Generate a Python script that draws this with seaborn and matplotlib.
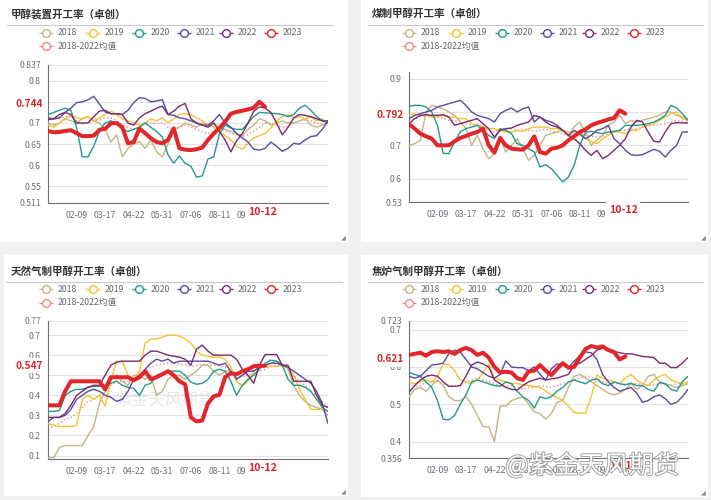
import numpy as np
import pandas as pd
import matplotlib
matplotlib.use('Agg')
import matplotlib.pyplot as plt
import seaborn as sns
from matplotlib.patches import Rectangle
import matplotlib.patheffects as pe
import matplotlib.transforms as mtrans

# ---------------- data ----------------
years = ['2018', '2019', '2020', '2021', '2022', '2023', '2018-2022均值']
colors = ['#c4b584', '#f5c236', '#229a8e', '#5a4aa0', '#7b2a6c', '#e1262c', '#f08a8a']
tick_pos = [5, 10, 15, 20, 25, 30, 35, 40]
tick_labels = ['02-09', '03-17', '04-22', '05-31', '07-06', '08-11', '09-16', '']
pointer_x_label = '10-12'

titles = ['甲醇装置开工率（卓创）', '煤制甲醇开工率（卓创）',
          '天然气制甲醇开工率（卓创）', '焦炉气制甲醇开工率（卓创）']
pointer_values = [0.744, 0.792, 0.547, 0.621]

# panel 1: 甲醇装置开工率
tl_2018 = [0.70, 0.695, 0.70, 0.71, 0.705, 0.70, 0.71, 0.715, 0.705, 0.70,
           0.685, 0.655, 0.672, 0.62, 0.64, 0.65, 0.656, 0.64, 0.66, 0.632,
           0.62, 0.65, 0.685, 0.69, 0.70, 0.695, 0.69, 0.70, 0.695, 0.70,
           0.69, 0.685, 0.68, 0.675, 0.67, 0.685, 0.695, 0.71, 0.705, 0.695,
           0.70, 0.705, 0.70, 0.70, 0.705, 0.71, 0.695, 0.69, 0.695, 0.70]
tl_2019 = [0.695, 0.69, 0.70, 0.71, 0.72, 0.712, 0.71, 0.715, 0.705, 0.712,
           0.72, 0.728, 0.72, 0.71, 0.705, 0.70, 0.695, 0.70, 0.71, 0.705,
           0.712, 0.70, 0.71, 0.72, 0.722, 0.72, 0.712, 0.705, 0.695, 0.69,
           0.68, 0.67, 0.66, 0.645, 0.638, 0.652, 0.665, 0.67, 0.675, 0.688,
           0.705, 0.715, 0.72, 0.712, 0.715, 0.71, 0.715, 0.705, 0.71, 0.70]
tl_2020 = [0.72, 0.725, 0.73, 0.735, 0.73, 0.69, 0.62, 0.62, 0.645, 0.68,
           0.70, 0.705, 0.70, 0.685, 0.68, 0.685, 0.69, 0.70, 0.69, 0.68,
           0.667, 0.625, 0.605, 0.622, 0.605, 0.598, 0.572, 0.575, 0.615, 0.62,
           0.675, 0.695, 0.688, 0.685, 0.685, 0.70, 0.715, 0.725, 0.724, 0.723,
           0.722, 0.72, 0.715, 0.72, 0.735, 0.742, 0.73, 0.715, 0.705, 0.70]
tl_2021 = [0.712, 0.71, 0.712, 0.725, 0.735, 0.748, 0.75, 0.755, 0.763, 0.745,
           0.726, 0.722, 0.722, 0.72, 0.73, 0.748, 0.76, 0.758, 0.75, 0.752,
           0.755, 0.72, 0.718, 0.712, 0.71, 0.705, 0.70, 0.695, 0.695, 0.705,
           0.72, 0.70, 0.69, 0.675, 0.665, 0.655, 0.638, 0.636, 0.64, 0.655,
           0.645, 0.633, 0.64, 0.652, 0.65, 0.66, 0.668, 0.67, 0.685, 0.705]
tl_2022 = [0.708, 0.71, 0.72, 0.725, 0.72, 0.70, 0.70, 0.70, 0.715, 0.728,
           0.73, 0.722, 0.722, 0.72, 0.70, 0.695, 0.712, 0.722, 0.728, 0.735,
           0.74, 0.72, 0.728, 0.74, 0.746, 0.71, 0.70, 0.695, 0.69, 0.70,
           0.68, 0.66, 0.632, 0.658, 0.675, 0.70, 0.728, 0.738, 0.735, 0.725,
           0.70, 0.672, 0.69, 0.712, 0.72, 0.718, 0.715, 0.71, 0.705, 0.705]
tl_2023 = [0.681, 0.678, 0.679, 0.681, 0.683, 0.676, 0.669, 0.669, 0.670, 0.684,
           0.686, 0.699, 0.700, 0.690, 0.652, 0.655, 0.687, 0.676, 0.664, 0.655,
           0.652, 0.660, 0.687, 0.640, 0.637, 0.636, 0.638, 0.642, 0.660, 0.675,
           0.688, 0.703, 0.722, 0.726, 0.729, 0.732, 0.736, 0.750, 0.738]
tl_mean = [0.712, 0.708, 0.71, 0.715, 0.715, 0.705, 0.698, 0.70, 0.705, 0.708,
           0.712, 0.712, 0.705, 0.695, 0.69, 0.685, 0.69, 0.70, 0.70, 0.698,
           0.70, 0.69, 0.685, 0.69, 0.695, 0.69, 0.685, 0.678, 0.675, 0.68,
           0.685, 0.682, 0.675, 0.672, 0.668, 0.672, 0.68, 0.69, 0.70, 0.70,
           0.695, 0.69, 0.693, 0.70, 0.705, 0.708, 0.705, 0.70, 0.698, 0.70]

# panel 2: 煤制甲醇开工率
tr_2018 = [0.70, 0.705, 0.715, 0.80, 0.82, 0.815, 0.81, 0.80, 0.79, 0.77,
           0.75, 0.70, 0.73, 0.69, 0.66, 0.675, 0.72, 0.68, 0.70, 0.72,
           0.69, 0.655, 0.67, 0.70, 0.73, 0.735, 0.74, 0.745, 0.73, 0.755,
           0.77, 0.74, 0.70, 0.715, 0.73, 0.76, 0.77, 0.79, 0.765, 0.775,
           0.77, 0.775, 0.78, 0.785, 0.79, 0.80, 0.80, 0.79, 0.785, 0.78]
tr_2019 = [0.79, 0.795, 0.79, 0.79, 0.785, 0.785, 0.79, 0.785, 0.785, 0.78,
           0.78, 0.765, 0.76, 0.755, 0.75, 0.75, 0.745, 0.74, 0.74, 0.745,
           0.742, 0.75, 0.755, 0.755, 0.755, 0.75, 0.75, 0.745, 0.74, 0.738,
           0.73, 0.72, 0.712, 0.705, 0.72, 0.73, 0.74, 0.74, 0.735, 0.745,
           0.745, 0.755, 0.76, 0.765, 0.775, 0.785, 0.795, 0.80, 0.78, 0.775]
tr_2020 = [0.817, 0.82, 0.82, 0.815, 0.80, 0.76, 0.676, 0.675, 0.71, 0.74,
           0.75, 0.755, 0.76, 0.745, 0.73, 0.72, 0.75, 0.745, 0.735, 0.705,
           0.70, 0.69, 0.68, 0.635, 0.642, 0.63, 0.61, 0.59, 0.605, 0.64,
           0.70, 0.74, 0.742, 0.738, 0.735, 0.74, 0.742, 0.745, 0.76, 0.76,
           0.76, 0.762, 0.765, 0.77, 0.778, 0.79, 0.82, 0.812, 0.795, 0.775]
tr_2021 = [0.78, 0.79, 0.795, 0.80, 0.805, 0.815, 0.82, 0.825, 0.83, 0.835,
           0.82, 0.80, 0.79, 0.785, 0.78, 0.77, 0.795, 0.805, 0.812, 0.80,
           0.81, 0.815, 0.77, 0.785, 0.775, 0.77, 0.76, 0.745, 0.73, 0.745,
           0.735, 0.72, 0.73, 0.745, 0.75, 0.76, 0.72, 0.705, 0.685, 0.672,
           0.67, 0.672, 0.68, 0.688, 0.682, 0.665, 0.685, 0.70, 0.74, 0.74]
tr_2022 = [0.765, 0.78, 0.79, 0.792, 0.79, 0.79, 0.792, 0.785, 0.76, 0.765,
           0.77, 0.775, 0.78, 0.765, 0.75, 0.725, 0.745, 0.75, 0.752, 0.76,
           0.765, 0.77, 0.79, 0.785, 0.77, 0.76, 0.755, 0.745, 0.73, 0.72,
           0.705, 0.685, 0.67, 0.685, 0.66, 0.67, 0.685, 0.70, 0.72, 0.755,
           0.775, 0.77, 0.74, 0.712, 0.71, 0.74, 0.765, 0.768, 0.767, 0.767]
tr_2023 = [0.764, 0.75, 0.735, 0.727, 0.72, 0.70, 0.70, 0.70, 0.712, 0.722,
           0.728, 0.735, 0.74, 0.75, 0.70, 0.678, 0.722, 0.70, 0.69, 0.688,
           0.687, 0.70, 0.727, 0.68, 0.675, 0.69, 0.693, 0.70, 0.715, 0.727,
           0.74, 0.748, 0.76, 0.767, 0.772, 0.778, 0.782, 0.805, 0.795]
tr_mean = [0.775, 0.78, 0.785, 0.79, 0.79, 0.785, 0.78, 0.775, 0.775, 0.77,
           0.765, 0.76, 0.765, 0.755, 0.745, 0.74, 0.75, 0.748, 0.75, 0.745,
           0.748, 0.745, 0.742, 0.745, 0.748, 0.742, 0.74, 0.735, 0.728, 0.735,
           0.738, 0.73, 0.728, 0.725, 0.727, 0.735, 0.74, 0.745, 0.745, 0.748,
           0.75, 0.755, 0.758, 0.76, 0.762, 0.765, 0.77, 0.775, 0.772, 0.77]

# panel 3: 天然气制甲醇开工率
bl_2018 = [0.09, 0.09, 0.14, 0.15, 0.15, 0.15, 0.15, 0.20, 0.245, 0.36,
           0.42, 0.48, 0.50, 0.47, 0.45, 0.50, 0.50, 0.48, 0.50, 0.40,
           0.42, 0.48, 0.50, 0.50, 0.48, 0.50, 0.52, 0.55, 0.55, 0.52,
           0.50, 0.52, 0.52, 0.48, 0.50, 0.52, 0.54, 0.55, 0.55, 0.56,
           0.57, 0.555, 0.53, 0.45, 0.40, 0.37, 0.35, 0.34, 0.33, 0.30]
bl_2019 = [0.26, 0.25, 0.245, 0.245, 0.245, 0.25, 0.38, 0.40, 0.38, 0.40,
           0.345, 0.47, 0.57, 0.57, 0.50, 0.48, 0.52, 0.66, 0.68, 0.68,
           0.69, 0.70, 0.70, 0.695, 0.68, 0.66, 0.62, 0.60, 0.595, 0.59,
           0.59, 0.58, 0.54, 0.47, 0.445, 0.47, 0.52, 0.54, 0.545, 0.545,
           0.545, 0.545, 0.54, 0.50, 0.43, 0.38, 0.33, 0.33, 0.33, 0.32]
bl_2020 = [0.32, 0.32, 0.325, 0.40, 0.42, 0.43, 0.43, 0.44, 0.445, 0.445,
           0.45, 0.46, 0.47, 0.45, 0.44, 0.435, 0.40, 0.45, 0.46, 0.50,
           0.51, 0.52, 0.52, 0.52, 0.50, 0.465, 0.455, 0.46, 0.48, 0.52,
           0.53, 0.52, 0.47, 0.40, 0.45, 0.48, 0.50, 0.53, 0.56, 0.575,
           0.57, 0.55, 0.48, 0.45, 0.45, 0.44, 0.42, 0.38, 0.34, 0.32]
bl_2021 = [0.27, 0.29, 0.29, 0.30, 0.33, 0.38, 0.40, 0.42, 0.43, 0.42,
           0.40, 0.39, 0.37, 0.38, 0.42, 0.48, 0.50, 0.53, 0.56, 0.58,
           0.57, 0.58, 0.56, 0.57, 0.57, 0.57, 0.57, 0.57, 0.57, 0.56,
           0.55, 0.56, 0.52, 0.48, 0.50, 0.52, 0.52, 0.54, 0.55, 0.56,
           0.56, 0.55, 0.54, 0.52, 0.50, 0.48, 0.46, 0.42, 0.36, 0.26]
bl_2022 = [0.29, 0.29, 0.29, 0.31, 0.35, 0.40, 0.42, 0.44, 0.45, 0.45,
           0.50, 0.55, 0.565, 0.57, 0.57, 0.57, 0.57, 0.60, 0.62, 0.62,
           0.61, 0.60, 0.595, 0.59, 0.58, 0.55, 0.63, 0.65, 0.62, 0.60,
           0.60, 0.60, 0.60, 0.58, 0.53, 0.50, 0.46, 0.55, 0.603, 0.603,
           0.603, 0.55, 0.55, 0.47, 0.47, 0.47, 0.47, 0.40, 0.35, 0.34]
bl_2023 = [0.35, 0.35, 0.35, 0.42, 0.47, 0.47, 0.47, 0.47, 0.47, 0.47,
           0.43, 0.49, 0.49, 0.49, 0.49, 0.475, 0.49, 0.52, 0.48, 0.49,
           0.505, 0.52, 0.50, 0.47, 0.455, 0.29, 0.27, 0.275, 0.36, 0.395,
           0.403, 0.49, 0.51, 0.505, 0.52, 0.53, 0.545, 0.547, 0.547]
bl_mean = [0.23, 0.25, 0.26, 0.28, 0.29, 0.31, 0.34, 0.37, 0.38, 0.40,
           0.42, 0.45, 0.47, 0.47, 0.47, 0.48, 0.50, 0.52, 0.54, 0.55,
           0.555, 0.56, 0.56, 0.555, 0.55, 0.545, 0.55, 0.555, 0.55, 0.55,
           0.545, 0.54, 0.52, 0.49, 0.49, 0.50, 0.51, 0.52, 0.53, 0.545,
           0.55, 0.55, 0.54, 0.50, 0.47, 0.45, 0.42, 0.40, 0.37, 0.34]

# panel 4: 焦炉气制甲醇开工率
br_2018 = [0.52, 0.54, 0.545, 0.535, 0.55, 0.565, 0.55, 0.52, 0.51, 0.51,
           0.52, 0.50, 0.47, 0.44, 0.44, 0.40, 0.495, 0.495, 0.51, 0.515,
           0.52, 0.50, 0.48, 0.475, 0.46, 0.475, 0.505, 0.51, 0.545, 0.575,
           0.58, 0.57, 0.56, 0.55, 0.54, 0.53, 0.525, 0.53, 0.54, 0.555,
           0.54, 0.55, 0.575, 0.58, 0.56, 0.555, 0.55, 0.545, 0.55, 0.555]
br_2019 = [0.56, 0.555, 0.56, 0.565, 0.56, 0.575, 0.607, 0.607, 0.59, 0.565,
           0.56, 0.555, 0.565, 0.585, 0.607, 0.57, 0.565, 0.56, 0.555, 0.555,
           0.553, 0.55, 0.548, 0.545, 0.535, 0.525, 0.518, 0.51, 0.495, 0.478,
           0.476, 0.477, 0.52, 0.578, 0.57, 0.565, 0.56, 0.555, 0.57, 0.58,
           0.565, 0.555, 0.55, 0.565, 0.575, 0.58, 0.565, 0.56, 0.555, 0.56]
br_2020 = [0.585, 0.58, 0.575, 0.56, 0.545, 0.51, 0.46, 0.458, 0.47, 0.50,
           0.525, 0.56, 0.565, 0.56, 0.555, 0.55, 0.548, 0.56, 0.555, 0.535,
           0.52, 0.51, 0.49, 0.52, 0.515, 0.52, 0.535, 0.545, 0.56, 0.565,
           0.56, 0.555, 0.565, 0.568, 0.555, 0.55, 0.56, 0.555, 0.552, 0.556,
           0.55, 0.55, 0.54, 0.535, 0.558, 0.555, 0.54, 0.535, 0.56, 0.575]
br_2021 = [0.575, 0.57, 0.575, 0.59, 0.605, 0.607, 0.61, 0.635, 0.645, 0.64,
           0.62, 0.60, 0.595, 0.585, 0.575, 0.57, 0.58, 0.616, 0.60, 0.598,
           0.598, 0.59, 0.60, 0.58, 0.565, 0.595, 0.608, 0.605, 0.598, 0.615,
           0.63, 0.64, 0.638, 0.62, 0.58, 0.56, 0.545, 0.535, 0.54, 0.545,
           0.53, 0.505, 0.51, 0.52, 0.525, 0.515, 0.50, 0.505, 0.52, 0.54]
br_2022 = [0.532, 0.55, 0.565, 0.575, 0.578, 0.575, 0.56, 0.548, 0.548, 0.55,
           0.575, 0.605, 0.613, 0.608, 0.60, 0.565, 0.555, 0.545, 0.54, 0.538,
           0.55, 0.56, 0.565, 0.57, 0.565, 0.568, 0.57, 0.575, 0.58, 0.605,
           0.61, 0.62, 0.63, 0.645, 0.65, 0.648, 0.642, 0.638, 0.635, 0.635,
           0.632, 0.628, 0.627, 0.625, 0.61, 0.61, 0.598, 0.598, 0.61, 0.625]
br_2023 = [0.632, 0.635, 0.638, 0.63, 0.64, 0.642, 0.64, 0.642, 0.635, 0.645,
           0.651, 0.645, 0.632, 0.638, 0.625, 0.60, 0.585, 0.587, 0.585, 0.57,
           0.565, 0.588, 0.59, 0.605, 0.59, 0.578, 0.595, 0.61, 0.598, 0.60,
           0.625, 0.648, 0.656, 0.652, 0.655, 0.645, 0.64, 0.62, 0.628]
br_mean = [0.555, 0.548, 0.55, 0.558, 0.56, 0.562, 0.555, 0.55, 0.548, 0.552,
           0.56, 0.565, 0.57, 0.565, 0.56, 0.555, 0.55, 0.548, 0.55, 0.545,
           0.54, 0.545, 0.545, 0.55, 0.548, 0.545, 0.55, 0.555, 0.56, 0.565,
           0.57, 0.575, 0.572, 0.568, 0.56, 0.555, 0.556, 0.555, 0.553, 0.556,
           0.555, 0.553, 0.55, 0.553, 0.555, 0.553, 0.55, 0.555, 0.555, 0.56]

panel_series = [
    [tl_2018, tl_2019, tl_2020, tl_2021, tl_2022, tl_2023, tl_mean],
    [tr_2018, tr_2019, tr_2020, tr_2021, tr_2022, tr_2023, tr_mean],
    [bl_2018, bl_2019, bl_2020, bl_2021, bl_2022, bl_2023, bl_mean],
    [br_2018, br_2019, br_2020, br_2021, br_2022, br_2023, br_mean],
]
y_limits = [(0.511, 0.837), (0.53, 0.92), (0.083, 0.77), (0.356, 0.723)]
y_ticks = [[0.511, 0.55, 0.6, 0.65, 0.7, 0.75, 0.8, 0.837],
           [0.53, 0.6, 0.7, 0.8, 0.9],
           [0.1, 0.2, 0.3, 0.4, 0.5, 0.6, 0.7, 0.77],
           [0.356, 0.4, 0.5, 0.6, 0.7, 0.723]]
y_tick_labels = [['0.511', '0.55', '0.6', '0.65', '0.7', '0.75', '0.8', '0.837'],
                 ['0.53', '0.6', '0.7', '0.8', '0.9'],
                 ['0.1', '0.2', '0.3', '0.4', '0.5', '0.6', '0.7', '0.77'],
                 ['0.356', '0.4', '0.5', '0.6', '0.7', '0.723']]

# ---------------- layout (pixels) ----------------
sns.set_theme(style='white')
plt.rcParams['font.family'] = ['Noto Sans CJK SC', 'DejaVu Sans']

W, H = 711, 500
fig = plt.figure(figsize=(7.11, 5.0), dpi=100, facecolor='#f1f1f1')


def px_axes(l, t, r, b):
    return fig.add_axes([l / W, 1 - b / H, (r - l) / W, (b - t) / H])


bg = px_axes(0, 0, W, H)
bg.set_xlim(0, W)
bg.set_ylim(H, 0)
bg.axis('off')
bg.set_zorder(0)

panels = [(0, 0, 348, 242), (361, 0, 708, 242), (4, 255, 348, 496), (361, 255, 708, 497)]
plot_boxes = [(48, 65, 328, 203), (409, 72, 688, 202), (48, 321, 328, 459), (409, 321, 688, 458)]
title_pos = [(11, 14), (372, 14), (11, 271.5), (372, 271.5)]
sep_pos = [(7, 333, 25), (368, 703, 25), (6, 342, 281.5), (368, 703, 281.5)]
legend_rows = [(32.5, 46), (32.5, 46), (289, 302.5), (289, 302.5)]
legend_dx = [0, 363, 0, 363]
legend_marker_x = [39, 86, 132, 177, 219, 264]

for (l, t, r, b) in panels:
    bg.add_patch(Rectangle((l, t), r - l, b - t, facecolor='white', edgecolor='none'))
    bg.text(r - 5, b - 4, '◢', fontsize=3.5, color='#888', ha='center', va='center')

for k in range(4):
    tx, ty = title_pos[k]
    bg.text(tx, ty, titles[k], fontsize=7.6, fontweight='bold', color='#333333',
            ha='left', va='center')
    x1, x2, sy = sep_pos[k]
    bg.plot([x1, x2], [sy, sy], color='#c8c8c8', lw=0.8)
    r1, r2 = legend_rows[k]
    dx = legend_dx[k]
    for j in range(7):
        if j < 6:
            mx, my = legend_marker_x[j] + dx, r1
        else:
            mx, my = legend_marker_x[0] + dx, r2
        c = colors[j]
        bg.plot([mx, mx + 14], [my, my], color=c, lw=1.0, solid_capstyle='butt')
        bg.plot([mx + 7], [my], marker='o', ms=5.6, mfc='white', mec=c, mew=1.0)
        bg.text(mx + 19, my, years[j], fontsize=6.3, color='#666666',
                ha='left', va='center')

# ---------------- plots ----------------
for k in range(4):
    l, t, r, b = plot_boxes[k]
    ax = px_axes(l, t, r, b)
    ax.set_zorder(1)
    ax.patch.set_alpha(0)
    series = panel_series[k]
    # mean first (bottom), then the years, 2023 on top
    order = [6, 0, 1, 2, 3, 4, 5]
    for j in order:
        vals = series[j]
        df = pd.DataFrame({'idx': np.arange(len(vals)), 'val': vals})
        if j == 5:
            lw, ls, z = 2.9, '-', 5
        elif j == 6:
            lw, ls, z = 1.0, ':', 2
        else:
            lw, ls, z = 1.0, '-', 3
        sns.lineplot(data=df, x='idx', y='val', ax=ax, color=colors[j],
                     linewidth=lw, linestyle=ls, zorder=z, legend=False)
    ax.set_xlim(0, 49)
    ax.set_ylim(*y_limits[k])
    ax.set_yticks(y_ticks[k])
    ax.set_yticklabels(y_tick_labels[k])
    ax.set_xticks(tick_pos)
    ax.set_xticklabels(tick_labels)
    ax.set_xlabel('')
    ax.set_ylabel('')
    for s in ['top', 'right']:
        ax.spines[s].set_visible(False)
    for s in ['left', 'bottom']:
        ax.spines[s].set_color('#6e7079')
        ax.spines[s].set_linewidth(0.8)
    ax.grid(axis='y', color='#e3e3e3', lw=0.8)
    ax.set_axisbelow(True)
    ax.tick_params(axis='both', labelsize=6.3, labelcolor='#6e7079', colors='#6e7079',
                   length=3, width=0.8, pad=2)
    ax.tick_params(axis='x', pad=3)
    # axis pointer labels
    tr_y = mtrans.blended_transform_factory(ax.transAxes, ax.transData)
    ax.text(-0.018, pointer_values[k], f'{pointer_values[k]:.3f}', transform=tr_y,
            ha='right', va='center', fontsize=7.3, fontweight='bold', color='#d4262e',
            zorder=20, clip_on=False,
            bbox=dict(boxstyle='square,pad=0.25', facecolor='white', edgecolor='none'))
    tr_x = mtrans.blended_transform_factory(ax.transData, ax.transAxes)
    ax.text(37.6, -0.062, pointer_x_label, transform=tr_x, ha='center', va='center',
            fontsize=7.6, fontweight='bold', color='#d4262e', zorder=20, clip_on=False,
            bbox=dict(boxstyle='square,pad=0.25', facecolor='white', edgecolor='none'))
    if k == 2:
        ax.text(0.42, 0.43, '紫金天风期货', transform=ax.transAxes, fontsize=12,
                color='#bbbbbb', alpha=0.35, ha='center', va='center', zorder=1)

# ---------------- watermark ----------------
fg = px_axes(0, 0, W, H)
fg.set_xlim(0, W)
fg.set_ylim(H, 0)
fg.axis('off')
fg.set_zorder(5)
fg.patch.set_alpha(0)
fg.text(592, 466, '@紫金天风期货', fontsize=18, color='white', ha='center', va='center',
        path_effects=[pe.withStroke(linewidth=1.3, foreground='#9d9d9d')])

fig.savefig('out.png', dpi=100, facecolor=fig.get_facecolor())
